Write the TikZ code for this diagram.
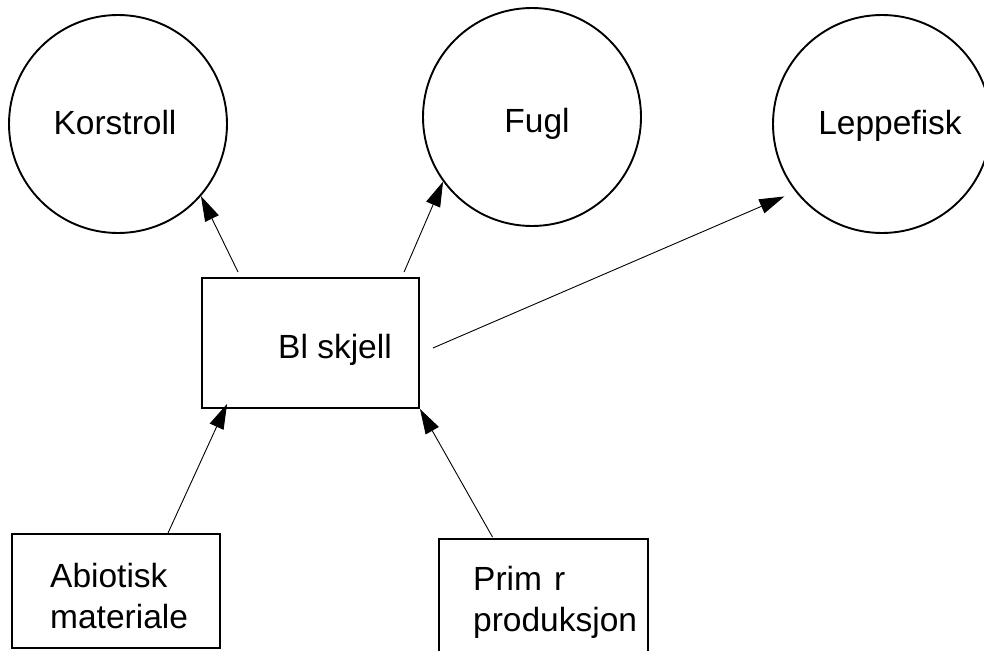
\documentclass[tikz,border=0pt]{standalone}
\usepackage{fontspec}
\setmainfont{Liberation Sans}
\usetikzlibrary{arrows.meta,calc}
\begin{document}
\begin{tikzpicture}[x=1pt,y=-1pt,
  circ/.style={draw,circle,line width=1.9pt,minimum size=218pt,inner sep=0pt},
  boxn/.style={draw,rectangle,line width=1.9pt,inner sep=0pt},
  lbl/.style={inner sep=0pt,font=\fontsize{33.5}{41}\selectfont},
  conn/.style={line width=0.9pt,-{Triangle[length=25pt,width=15pt]}}]
\useasboundingbox (0,0) rectangle (984,650);
% circles
\node[circ] (kor) at (118,124) {};
\node[circ] (fug) at (532,117) {};
\node[circ] (lep) at (882,124) {};
\node[lbl,anchor=base] (kortxt) at (115,135) {Korstroll};
\node[lbl,anchor=base] (fugtxt) at (537,132) {Fugl};
\node[lbl,anchor=base] (leptxt) at (890,135) {Leppefisk};
% boxes
\node[boxn,minimum width=217pt,minimum height=130pt] (bl) at (310.5,343) {};
\node[lbl,anchor=base] (bltxt) at (335,358) {Bl skjell};
\node[boxn,minimum width=208pt,minimum height=114pt] (abi) at (116,591) {};
\node[lbl,anchor=west,align=left] (abitxt) at (50,596) {Abiotisk\\materiale};
\node[boxn,minimum width=209pt,minimum height=130pt] (pri) at (543.5,604) {};
\node[lbl,anchor=west,align=left] (pritxt) at (473,602.5) {Prim\hspace{12pt}r\\produksjon};
% connector ends
\coordinate (t1) at ($(bl.north west)+(37,-5)$);
\coordinate (t2) at ($(bl.north west)+(203,-5)$);
\coordinate (t3) at ($(bl.east)+(13,5)$);
\coordinate (t4) at ($(abi.north)+(52,0)$);
\coordinate (h4) at ($(bl.south west)+(26,-5)$);
\coordinate (t5) at ($(pri.north)+(-51,-1)$);
% connectors
\draw[conn] (t1) -- (kor.-41);
\draw[conn] (t2) -- (fug.-144);
\draw[conn,shorten >=12pt] (t3) -- (lep.218.5);
\draw[conn] (t4) -- (h4);
\draw[conn] (t5) -- (bl.south east);
\end{tikzpicture}
\end{document}
